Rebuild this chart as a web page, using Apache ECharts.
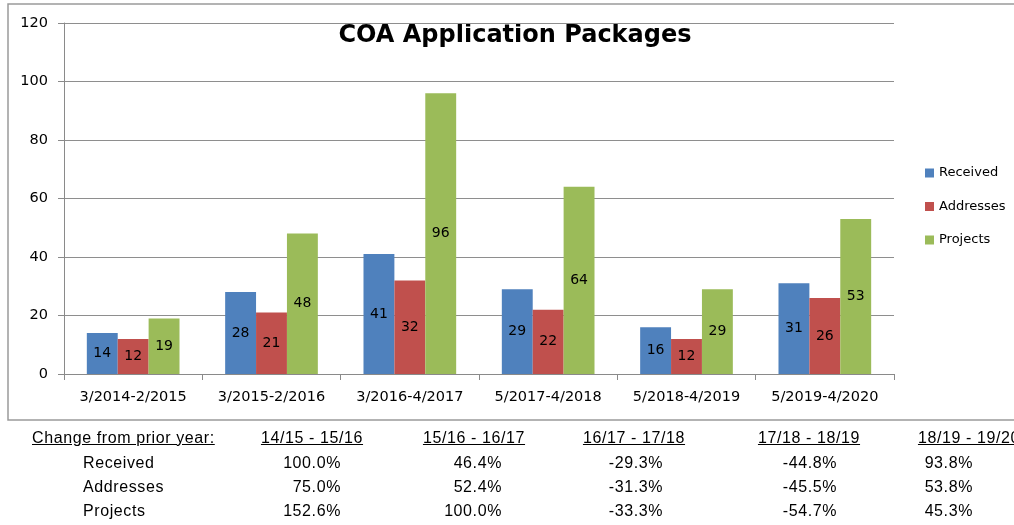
<!DOCTYPE html>
<html>
<head>
<meta charset="utf-8">
<script src="https://cdn.jsdelivr.net/npm/echarts@6/dist/echarts.min.js"></script>
<style>
  html, body { margin: 0; padding: 0; background: #fff; width: 1014px; height: 525px; overflow: hidden; }
  #chart { position: absolute; left: 0; top: 0; width: 1014px; height: 422px; }
  #table { position: absolute; left: 0; top: 0; width: 1014px; height: 525px;
           font-family: "Liberation Sans", Arial, sans-serif; font-size: 16px; letter-spacing: 0.6px; color: #000; }
  #table div { position: absolute; line-height: 20px; white-space: nowrap; }
  .u { text-decoration: underline; }
</style>
</head>
<body>
<div id="chart"></div>
<div id="table"></div>
<script>
// 图表数据
const categories = ['3/2014-2/2015', '3/2015-2/2016', '3/2016-4/2017', '5/2017-4/2018', '5/2018-4/2019', '5/2019-4/2020'];
const received = [14, 28, 41, 29, 16, 31];
const addresses = [12, 21, 32, 22, 12, 26];
const projects = [19, 48, 96, 64, 29, 53];

// 下方表格数据
const changeTitle = 'Change from prior year:';
const changePeriods = ['14/15 - 15/16', '15/16 - 16/17', '16/17 - 17/18', '17/18 - 18/19', '18/19 - 19/20'];
const changeRows = ['Received', 'Addresses', 'Projects'];
const changeReceived = ['100.0%', '46.4%', '-29.3%', '-44.8%', '93.8%'];
const changeAddresses = ['75.0%', '52.4%', '-31.3%', '-45.5%', '53.8%'];
const changeProjects = ['152.6%', '100.0%', '-33.3%', '-54.7%', '45.3%'];

const labelFont = 'DejaVu Sans';
const chart = echarts.init(document.getElementById('chart'));

function barSeries(name, data, color) {
    return {
        name: name,
        type: 'bar',
        data: data,
        barGap: '0%',
        barCategoryGap: '33%',
        itemStyle: { color: color },
        label: {
            show: true,
            position: 'inside',
            color: '#000',
            fontFamily: labelFont,
            fontSize: 14
        }
    };
}

chart.setOption({
    animation: false,
    graphic: [{
        type: 'rect',
        shape: { x: 8, y: 4, width: 1040, height: 416 },
        style: { fill: 'none', stroke: '#9a9a9a', lineWidth: 1.5 },
        z: -1
    }, {
        type: 'text',
        x: 515, y: 36,
        style: {
            text: 'COA Application Packages',
            fontFamily: labelFont,
            fontWeight: 'bold',
            fontSize: 24,
            fill: '#000',
            textAlign: 'center',
            textVerticalAlign: 'middle'
        }
    }],
    legend: {
        orient: 'vertical',
        left: 925,
        top: 166,
        padding: 0,
        itemWidth: 9,
        itemHeight: 9,
        itemGap: 19.5,
        icon: 'rect',
        textStyle: { fontFamily: labelFont, fontSize: 13, lineHeight: 14, color: '#000' },
        data: ['Received', 'Addresses', 'Projects']
    },
    grid: { left: 64, right: 120, top: 23, bottom: 48, containLabel: false, outerBoundsMode: 'none' },
    xAxis: {
        type: 'category',
        data: categories,
        axisLine: { lineStyle: { color: '#8a8a8a' } },
        axisTick: { show: true, length: 6, lineStyle: { color: '#8a8a8a' } },
        axisLabel: { color: '#000', fontFamily: labelFont, fontSize: 14.5, margin: 16, interval: 0 }
    },
    yAxis: {
        type: 'value',
        min: 0,
        max: 120,
        interval: 20,
        axisLine: { show: true, lineStyle: { color: '#8a8a8a' } },
        axisTick: { show: true, length: 6, lineStyle: { color: '#8a8a8a' } },
        axisLabel: { color: '#000', fontFamily: labelFont, fontSize: 14.5, margin: 16 },
        splitLine: { lineStyle: { color: '#8e8e8e', width: 1 } }
    },
    series: [
        barSeries('Received', received, '#4F81BD'),
        barSeries('Addresses', addresses, '#C0504D'),
        barSeries('Projects', projects, '#9BBB59')
    ]
});

// 表格（HTML文本）
const table = document.getElementById('table');
const headerCenters = [312, 474, 634, 809, 969];
const valueRights = [341, 502, 663, 837, 973];
const headerTop = 427.5;
const rowTops = [452.5, 477, 501];

function addText(text, left, top, width, align, cls) {
    const d = document.createElement('div');
    d.textContent = text;
    d.style.left = left + 'px';
    d.style.top = top + 'px';
    if (width) { d.style.width = width + 'px'; d.style.textAlign = align; }
    if (cls) d.className = cls;
    table.appendChild(d);
}

addText(changeTitle, 32, headerTop, 0, null, 'u');
changePeriods.forEach((p, i) => addText(p, headerCenters[i] - 100, headerTop, 200, 'center', 'u'));
[changeReceived, changeAddresses, changeProjects].forEach((vals, r) => {
    addText(changeRows[r], 83, rowTops[r]);
    vals.forEach((v, i) => addText(v, valueRights[i] - 100, rowTops[r], 100, 'right'));
});
</script>
</body>
</html>
